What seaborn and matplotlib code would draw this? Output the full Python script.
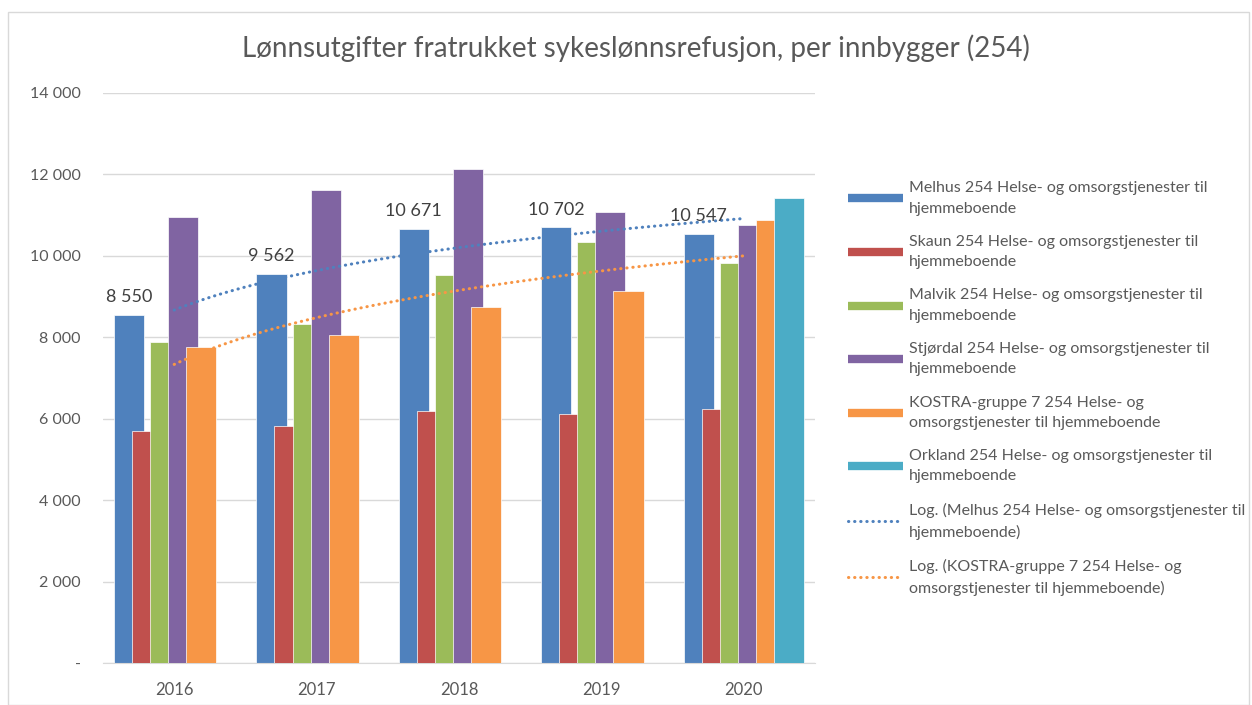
import numpy as np
import seaborn as sns
import matplotlib.pyplot as plt
from matplotlib.lines import Line2D
from matplotlib.patches import Rectangle
from matplotlib.ticker import FuncFormatter

# data
years = [2016, 2017, 2018, 2019, 2020]
melhus = [8550, 9562, 10671, 10702, 10547]
skaun = [5700, 5820, 6180, 6110, 6230]
malvik = [7890, 8330, 9530, 10340, 9830]
stjordal = [10960, 11620, 12140, 11080, 10760]
kostra = [7770, 8060, 8750, 9140, 10880]
orkland = [np.nan, np.nan, np.nan, np.nan, 11430]

labels = [
    "Melhus 254 Helse- og omsorgstjenester til\nhjemmeboende",
    "Skaun 254 Helse- og omsorgstjenester til\nhjemmeboende",
    "Malvik 254 Helse- og omsorgstjenester til\nhjemmeboende",
    "Stjørdal 254 Helse- og omsorgstjenester til\nhjemmeboende",
    "KOSTRA-gruppe 7 254 Helse- og\nomsorgstjenester til hjemmeboende",
    "Orkland 254 Helse- og omsorgstjenester til\nhjemmeboende",
    "Log. (Melhus 254 Helse- og omsorgstjenester til\nhjemmeboende)",
    "Log. (KOSTRA-gruppe 7 254 Helse- og\nomsorgstjenester til hjemmeboende)",
]
colors = ["#4F81BD", "#C0504D", "#9BBB59", "#8064A2", "#F79646", "#4BACC6"]

sns.set_style("white")
plt.rcParams["font.family"] = ["Lato", "DejaVu Sans"]
text_color = "#595959"
dots = (0, (0.1, 1.9))

fig = plt.figure(figsize=(12.52, 7.05), dpi=100)
ax = fig.add_axes([103 / 1252, 42 / 705, 712 / 1252, 570 / 705])

# overlapping clustered bars, like Excel with negative gap
bar_w = 30 / 142
all_series = [melhus, skaun, malvik, stjordal, kostra, orkland]
for i, vals in enumerate(all_series):
    off = (-45 + 18 * i) / 142
    xs = [y + off for y in years]
    sns.barplot(x=xs, y=vals, native_scale=True, width=bar_w, color=colors[i],
                saturation=1, errorbar=None, edgecolor="white", linewidth=0.5,
                ax=ax, zorder=2 + i)

# data labels on Melhus
off0 = -45 / 142
for yr, v in zip(years, melhus):
    ax.annotate(f"{v:,}".replace(",", " "), (yr + off0, v), xytext=(0, 7),
                textcoords="offset points", ha="center", va="bottom",
                fontsize=13, color="#404040", zorder=10)

# logarithmic trendlines (Excel style, x = 1..n)
t = np.arange(1, len(years) + 1)
t_fine = np.linspace(1, len(years), 100)
for vals, c in [(melhus, colors[0]), (kostra, colors[4])]:
    a, b = np.polyfit(np.log(t), vals, 1)
    sns.lineplot(x=years[0] + t_fine - 1, y=a * np.log(t_fine) + b, ax=ax,
                 color=c, linewidth=2.2, linestyle=dots,
                 dash_capstyle="round", zorder=9)

ax.set_xlim(2015.5, 2020.5)
ax.set_ylim(0, 14000)
ax.set_xticks(years)
ax.set_xticklabels([str(y) for y in years])
ax.set_yticks(range(0, 14001, 2000))
ax.yaxis.set_major_formatter(FuncFormatter(
    lambda v, p: "-" if v == 0 else f"{v:,.0f}".replace(",", " ")))
ax.grid(axis="y", color="#d9d9d9", linewidth=1)
ax.set_axisbelow(True)
for s in ["top", "right", "left"]:
    ax.spines[s].set_visible(False)
ax.spines["bottom"].set_color("#d9d9d9")
ax.tick_params(axis="y", length=0, pad=16, labelsize=11.5, labelcolor=text_color)
ax.tick_params(axis="x", length=0, pad=14, labelsize=12, labelcolor=text_color)
ax.set_xlabel("")
ax.set_ylabel("")

fig.text(636 / 1252, 1 - 48 / 705,
         "Lønnsutgifter fratrukket sykeslønnsrefusjon, per innbygger (254)",
         ha="center", va="center", fontsize=20, color=text_color)

handles = [Line2D([0], [0], color=c, linewidth=6, solid_capstyle="butt") for c in colors]
handles += [Line2D([0], [0], color=colors[0], linewidth=2.2, linestyle=dots,
                   dash_capstyle="round"),
            Line2D([0], [0], color=colors[4], linewidth=2.2, linestyle=dots,
                   dash_capstyle="round")]
leg = fig.legend(handles, labels, loc="upper left",
                 bbox_to_anchor=(834 / 1252, 1 - 167 / 705),
                 frameon=False, fontsize=11.5, handlelength=3.44, handletextpad=0.375,
                 labelspacing=1.2, labelcolor=text_color)
for txt in leg.get_texts():
    txt.set_linespacing(1.58)

fig.patches.append(Rectangle((8 / 1252, 0), 1241 / 1252, 1 - 12 / 705,
                             transform=fig.transFigure, fill=False,
                             edgecolor="#d9d9d9", linewidth=1))

fig.savefig("out.png", dpi=100)
